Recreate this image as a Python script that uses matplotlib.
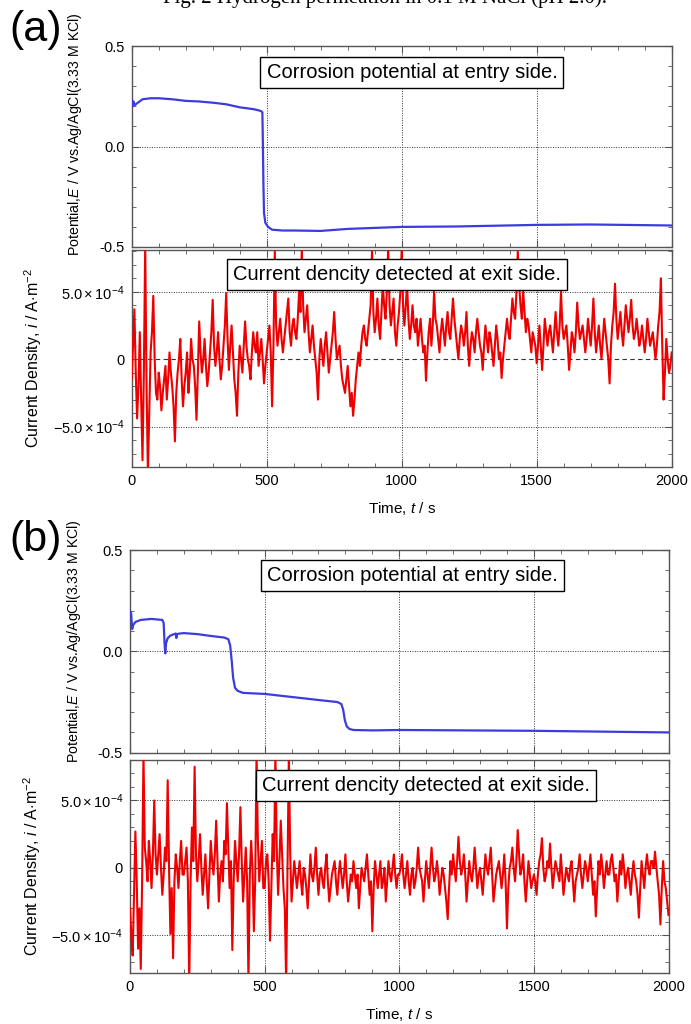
import matplotlib

matplotlib.use("Agg")
import matplotlib.pyplot as plt
from matplotlib.ticker import FixedLocator, MultipleLocator, FixedFormatter
import numpy as np

plt.rcParams["font.family"] = ["Liberation Sans", "DejaVu Sans"]
plt.rcParams["mathtext.fontset"] = "custom"
plt.rcParams["mathtext.rm"] = "Liberation Sans"
plt.rcParams["mathtext.it"] = "Liberation Sans:italic"

# --- data -----------------------------------------------------------------
# corrosion potential at entry side, E / V
pot_a_t = [0, 3, 6, 10, 20, 40, 70, 100, 150, 200, 250, 300, 350, 400, 450,
           470, 480, 484, 486, 488, 490, 495, 505, 520, 560, 600, 700, 800,
           900, 1000, 1200, 1500, 1700, 2000]
pot_a_E = [0.232, 0.20, 0.225, 0.205, 0.215, 0.235, 0.24, 0.24, 0.235, 0.227,
           0.224, 0.218, 0.21, 0.195, 0.186, 0.18, 0.175, 0.17, 0.0, -0.2,
           -0.33, -0.38, -0.40, -0.414, -0.418, -0.418, -0.42, -0.41, -0.405,
           -0.40, -0.398, -0.39, -0.388, -0.393]

pot_b_t = [0, 4, 8, 12, 20, 40, 80, 120, 125, 128, 131, 134, 140, 150, 170,
           172, 175, 180, 200, 250, 300, 350, 365, 372, 378, 383, 390, 400,
           420, 500, 600, 700, 770, 785, 792, 798, 805, 815, 830, 900, 1000,
           1500, 2000]
pot_b_E = [0.20, 0.19, 0.11, 0.13, 0.145, 0.155, 0.16, 0.155, 0.14, 0.05,
           -0.01, 0.04, 0.065, 0.078, 0.088, 0.066, 0.085, 0.087, 0.09, 0.085,
           0.076, 0.068, 0.06, 0.03, -0.05, -0.13, -0.18, -0.195, -0.205,
           -0.21, -0.225, -0.24, -0.25, -0.26, -0.29, -0.34, -0.37, -0.383,
           -0.388, -0.39, -0.388, -0.392, -0.40]

# current density at exit side, sampled every 5 s, in units of 1e-4 A/m2
cur_t = list(range(0, 2001, 5))
cur_a = [
    -1.5, 1.0, 3.7, -1.0, -4.4, -2.0, 2.0, -3.0, -7.5, -1.0, 8.5, -2.0, -8.5, -4.0, 0.5, 2.0, 4.7, 0.0, -2.5, -3.0,
    -1.0, -2.0, -3.8, -2.5, -1.5, -0.5, -3.0, -1.5, 0.5, -1.0, -2.0, -3.5, -6.1, -2.5, -1.0, 0.0, 1.5, -1.5, -3.5, -2.0,
    -1.0, 0.5, -2.5, -1.0, 1.5, 0.0, -0.5, -2.0, -4.5, -1.0, 2.8, 0.5, -1.0, 0.0, 1.5, -0.5, -2.0, -1.0, 0.5, 2.0,
    4.4, 1.0, -0.5, 0.5, 2.0, 0.0, -1.5, -0.5, 1.0, 2.5, 4.9, 1.5, -0.8, 1.0, 2.5, 0.5, -1.5, -2.5, -4.2, -1.0,
    1.0, 0.0, -1.0, 1.0, 2.8, 1.0, 0.0, -0.5, -1.5, 0.5, 2.0, 1.0, 0.5, 2.0, -0.5, 0.5, 1.5, 0.0, -1.8, -0.5,
    0.5, 1.5, 2.5, 0.5, -3.5, 1.0, 8.0, 2.5, 1.0, 2.0, 3.0, 1.5, 0.5, 1.5, 2.5, 3.5, 4.5, 2.0, 1.0, 2.5,
    3.0, 2.0, 1.5, 3.0, 5.0, 3.5, 8.2, 4.0, 2.0, 3.0, 4.0, 2.0, 0.5, 1.5, 2.5, 1.0, 0.0, -1.0, -3.0, 0.0,
    1.5, 0.5, -0.5, 1.0, 2.0, 0.5, -1.0, 0.0, 1.0, 2.0, 3.5, 1.5, 0.0, 0.5, 1.0, -0.5, -1.5, -2.0, -2.5, -1.5,
    -0.5, -2.0, -3.5, -2.5, -4.2, -3.0, -1.5, -0.5, 0.5, -0.5, 1.0, 2.0, 2.5, 1.5, 1.0, 2.0, 3.0, 4.0, 8.0, 3.5,
    2.0, 3.0, 4.5, 2.5, 1.5, 3.5, 5.5, 4.0, 3.0, 5.0, 8.3, 4.0, 2.5, 3.5, 4.5, 2.0, 1.0, 2.5, 3.5, 5.0,
    8.2, 4.0, 2.5, 4.0, 5.5, 3.0, 1.5, 2.5, 4.0, 2.5, 2.0, 3.0, 1.0, 2.0, 3.0, 1.5, 0.5, 1.0, -1.6, 0.5,
    2.0, 3.0, 1.0, 2.5, 5.0, 3.0, 2.5, 1.5, 0.5, 2.0, 3.0, 2.0, 1.0, 2.5, 3.5, 2.0, 1.5, 3.0, 4.5, 3.0,
    2.0, 1.0, 0.0, 1.5, 2.5, 2.0, 1.0, 2.0, 3.5, 1.0, -0.5, 1.0, 2.0, 1.5, 0.5, 2.0, 3.0, 2.0, 1.0, 0.5,
    -0.8, 1.0, 2.5, 1.5, 0.5, 2.0, 1.5, 0.5, -0.5, 1.0, 2.5, 1.5, 0.0, 0.5, -1.4, 0.0, 1.0, 2.0, 3.0, 2.0,
    1.5, 3.0, 4.5, 3.5, 3.0, 5.0, 8.0, 5.5, 4.0, 3.0, 5.0, 3.5, 2.0, 3.0, 2.5, 1.5, 0.5, 2.0, 1.5, 1.0,
    -0.3, 1.0, 2.5, 1.0, -0.8, 1.0, 3.0, 2.0, 1.0, 2.0, 2.5, 1.5, 0.5, 2.0, 3.5, 2.0, 1.0, 2.5, 5.0, 2.5,
    1.5, 2.0, 2.5, 1.0, -0.8, 0.5, 2.0, 1.5, 0.5, 2.0, 4.2, 2.5, 1.5, 2.0, 2.5, 1.5, 0.5, 1.5, 3.0, 2.0,
    1.0, 2.5, 4.5, 2.0, 0.5, 1.5, 2.5, 1.0, 0.0, 1.5, 3.0, 2.0, 1.0, 0.0, -1.8, 1.0, 2.5, 3.5, 5.6, 3.0,
    1.5, 2.5, 3.5, 2.0, 1.0, 2.5, 4.0, 3.0, 2.0, 3.0, 4.4, 2.5, 1.5, 2.0, 3.0, 2.0, 1.0, 1.5, 2.5, 1.5,
    0.5, 1.5, 3.0, 2.0, 1.0, 1.5, 2.0, 1.0, 0.0, 1.0, 2.5, 3.5, 6.0, 1.0, -3.0, -1.0, 1.5, 0.0, -1.0, -0.5,
    0.5,
]
cur_b = [
    -3.0, -5.0, -6.5, -2.0, 2.7, -1.0, -6.0, -3.0, -7.5, -1.0, 8.5, 1.5, 0.5, -1.0, 2.0, 0.5, -1.5, 1.0, 5.0, 1.0,
    -0.5, 1.0, 2.5, 0.0, -2.0, -0.5, 1.5, 0.5, 6.5, 0.0, -4.9, -1.5, -6.7, -1.0, 1.0, 0.0, -1.5, 0.5, 2.0, -0.5,
    -0.5, 0.5, 1.5, -1.0, -8.5, -1.0, 3.0, 0.5, 7.5, 1.0, -1.0, 0.5, 2.5, 0.0, -2.0, -0.5, 1.0, -1.0, -3.0, -0.5,
    2.0, 0.5, -0.5, 1.0, 3.5, 0.5, -2.5, -0.5, 0.5, -1.0, 2.0, 1.0, 4.8, 1.5, -1.5, 0.5, -6.1, -1.0, 2.0, 0.5,
    -1.0, 1.0, 4.5, 0.5, -2.5, -0.5, 1.5, -1.0, -8.5, -0.5, 2.0, 0.0, -4.7, -1.0, 8.5, 2.0, -1.0, 0.5, 2.0, -1.5,
    -1.5, 0.5, 1.0, -1.0, -5.4, -1.5, 2.5, 0.5, 8.5, 1.5, -2.0, 0.5, 3.5, 1.0, -1.5, -3.0, -8.5, 0.0, 8.5, 1.0,
    -2.5, -1.0, 0.5, -0.5, -1.5, -0.5, 0.5, -1.0, -2.0, 0.0, -0.5, -1.5, -3.0, -1.0, 1.0, -0.5, -1.0, 0.0, 1.5, -0.5,
    -2.0, -0.5, 0.0, -1.0, -1.5, 0.0, 1.0, -1.0, -2.5, -1.5, -0.5, 0.0, 0.5, -1.0, -2.0, -0.5, 0.5, -0.5, -1.5, -0.5,
    1.0, -1.0, -2.5, -1.5, -0.5, -1.0, 0.5, -0.5, -1.5, -0.5, -3.0, -1.5, 0.0, -0.5, -1.0, 0.0, 1.0, -0.5, -2.0, -1.0,
    -4.7, -1.5, 0.5, -0.5, -1.5, -0.5, 0.5, -1.5, -1.0, 0.0, -2.5, -1.0, 0.5, -0.5, -1.0, 0.0, 1.0, -0.5, -1.5, -0.5,
    -0.5, 0.0, 1.0, -0.5, -1.5, -0.5, 0.5, -1.0, -2.0, -0.5, 0.0, -1.5, -1.0, 0.0, 1.5, 0.0, -0.5, -1.0, -2.5, -1.0,
    0.5, -0.5, -1.5, 0.0, 1.5, 0.0, -1.0, -0.5, 0.5, -0.5, -2.0, -1.0, 0.0, -0.5, -1.5, -2.5, -3.8, -1.5, 0.5, -0.5,
    1.0, 0.0, -1.0, 0.5, 2.3, 0.5, -0.5, 0.0, 1.0, -0.5, -2.5, -1.0, 0.5, -0.5, -1.0, 0.0, 1.5, 0.0, -1.5, -0.5,
    0.0, -1.0, -2.0, -0.5, 1.0, 0.0, -0.5, 0.5, 1.5, -0.5, -2.5, -1.5, -0.5, 0.0, 0.5, -0.5, -1.5, -0.5, 1.0, -1.0,
    -4.5, -1.5, 0.0, 0.5, 1.5, 0.0, -1.0, 0.5, 2.8, 1.0, -0.5, 0.0, 1.0, -1.0, -2.5, -1.0, 0.5, -0.5, -1.5, -1.0,
    -0.5, -1.0, -2.0, -0.5, 0.5, 1.0, 2.2, 0.0, -1.0, -0.5, 0.5, 0.0, 1.8, 0.0, -1.5, -0.5, 0.5, 0.0, -0.5, -1.0,
    1.0, -0.5, -2.0, -1.0, 0.0, -0.5, -1.0, 0.0, 0.5, -1.0, -2.5, -1.0, -0.5, 0.0, 1.0, -0.5, -1.5, -0.5, 0.5, 0.0,
    -1.0, 0.0, 1.0, -0.5, -2.0, -1.0, -3.6, -1.5, 0.5, -0.5, 1.0, 0.0, -1.5, -0.5, 0.5, -0.5, -0.5, 0.5, 1.0, 0.0,
    -1.0, -0.5, -2.5, -1.0, 0.5, -0.5, 1.0, 0.0, -1.5, -0.5, 0.0, -1.0, -2.0, -0.5, 0.5, -0.5, -1.0, -2.0, -3.7, -1.5,
    0.5, -0.5, -1.5, 0.0, 1.0, 0.0, -0.5, 0.5, 0.5, 0.0, 1.2, 0.0, -1.0, -2.0, -4.2, -1.5, 0.5, -1.0, -1.5, -2.5,
    -3.5,
]

BLUE = "#3b3be0"
RED = "#ee0000"
FRAME = "#555555"
W, H = 691, 1024


def fig_rect(left, top, right, bottom):
    """pixel box -> figure fraction rect"""
    return [left / W, 1 - bottom / H, (right - left) / W, (bottom - top) / H]


def style_axes(ax):
    for s in ax.spines.values():
        s.set_color(FRAME)
        s.set_linewidth(1.0)
    ax.tick_params(which="both", direction="in", top=True, right=True,
                   colors=FRAME, labelcolor="black", labelsize=10.5, pad=5)
    ax.tick_params(which="major", length=5, width=0.8)
    ax.tick_params(which="minor", length=3, width=0.6)
    ax.set_xlim(0, 2000)
    ax.xaxis.set_major_locator(MultipleLocator(500))
    ax.xaxis.set_minor_locator(MultipleLocator(100))
    for xv in (500, 1000, 1500):
        ax.axvline(xv, color="#333333", lw=0.7, ls=(0, (1, 1.5)), zorder=1)


def draw_potential(ax, t, e, label_y):
    style_axes(ax)
    ax.set_ylim(-0.5, 0.5)
    ax.yaxis.set_major_locator(FixedLocator([-0.5, 0.0, 0.5]))
    ax.yaxis.set_major_formatter(FixedFormatter(["-0.5", "0.0", "0.5"]))
    ax.yaxis.set_minor_locator(MultipleLocator(0.1))
    ax.axhline(0, color="#333333", lw=0.7, ls=(0, (1, 1.5)), zorder=1)
    ax.tick_params(axis="x", labelbottom=False)
    ax.plot(t, e, color=BLUE, lw=1.6, zorder=3)
    ax.set_ylabel(r"Potential,$E$ / V vs.Ag/AgCl(3.33 M KCl)", fontsize=10.2)
    ax.yaxis.set_label_coords(-0.088, label_y)


def draw_current(ax, t, vals, lim):
    style_axes(ax)
    y = np.array(vals) * 1e-4
    ax.set_ylim(*lim)
    ax.yaxis.set_major_locator(FixedLocator([-5e-4, 0, 5e-4]))
    ax.yaxis.set_major_formatter(FixedFormatter(
        [r"$-5.0\times10^{-4}$", "0", r"$5.0\times10^{-4}$"]))
    ax.yaxis.set_minor_locator(MultipleLocator(1e-4))
    for yv in (-5e-4, 5e-4):
        ax.axhline(yv, color="#333333", lw=0.7, ls=(0, (1, 1.5)), zorder=1)
    ax.axhline(0, color="#333333", lw=0.8, ls=(0, (4, 3)), zorder=1)
    ax.plot(t, y, color=RED, lw=1.5, zorder=3)
    ax.set_ylabel(r"Current Density, $i$ / A$\cdot$m$^{-2}$", fontsize=11.5)
    ax.yaxis.set_label_coords(-0.162, 0.5)
    ax.set_xticks([0, 500, 1000, 1500, 2000])
    ax.set_xticklabels(["0", "500", "1000", "1500", "2000"])
    ax.set_xlabel(r"Time, $t$ / s", fontsize=11, labelpad=9)


def text_box(ax, x, y, s):
    ax.text(x, y, s, transform=ax.transAxes, ha="center", va="center",
            fontsize=14.5, zorder=5,
            bbox={"boxstyle": "square,pad=0.3", "facecolor": "white",
                  "edgecolor": "black", "linewidth": 1.0})


fig = plt.figure(figsize=(W / 100, H / 100), dpi=100)

fig.text(385 / W, 1 - 3 / H, "Fig. 2 Hydrogen permeation in 0.1 M NaCl (pH 2.0).",
         ha="center", va="baseline", fontsize=15, family="Liberation Serif")

ax1 = fig.add_axes(fig_rect(131.7, 46, 671.7, 247))
draw_potential(ax1, pot_a_t, pot_a_E, 0.562)
text_box(ax1, 0.519, 0.868, "Corrosion potential at entry side.")

ax2 = fig.add_axes(fig_rect(131.7, 250, 671.7, 467))
draw_current(ax2, cur_t, cur_a, (-8.0e-4, 8.1e-4))
text_box(ax2, 0.491, 0.889, "Current dencity detected at exit side.")

ax3 = fig.add_axes(fig_rect(130, 550, 668.5, 752.7))
draw_potential(ax3, pot_b_t, pot_b_E, 0.55)
text_box(ax3, 0.524, 0.875, "Corrosion potential at entry side.")

ax4 = fig.add_axes(fig_rect(130, 760, 668.5, 973))
draw_current(ax4, cur_t, cur_b, (-7.8e-4, 8.0e-4))
text_box(ax4, 0.55, 0.879, "Current dencity detected at exit side.")

fig.text(36 / W, 1 - 30 / H, "(a)", ha="center", va="center", fontsize=31)
fig.text(36 / W, 1 - 540 / H, "(b)", ha="center", va="center", fontsize=31)

fig.savefig("out.png", dpi=100)
